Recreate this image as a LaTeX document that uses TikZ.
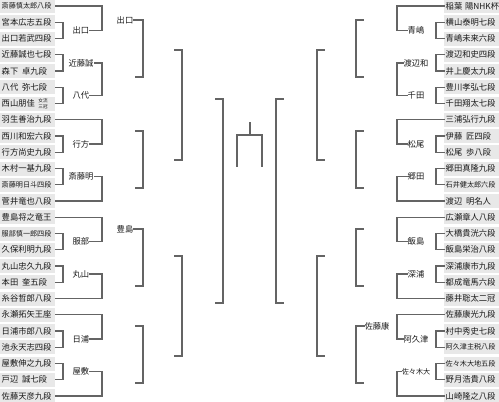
\documentclass[tikz,border=0pt]{standalone}
\usepackage{fontspec}
\newfontfamily\cjk{Noto Sans CJK JP}
\definecolor{boxgray}{RGB}{232,232,232}
\definecolor{linegray}{RGB}{100,100,100}
\definecolor{txt}{RGB}{25,25,25}
\newcommand\tightname[1]{{\fontsize{7.1}{8}\selectfont #1}}
\newcommand\namegap{\hspace{0.45em}}
\tikzset{
  pbox/.style={fill=boxgray, text=txt, anchor=west, minimum height=14pt, text width=52pt,
    inner xsep=1.5pt, inner ysep=0pt, align=left, font=\cjk\fontsize{8.3}{9}\selectfont},
  stack/.style={text=txt, inner sep=0pt, align=center, font=\cjk\fontsize{4.6}{6.4}\selectfont},
  lab/.style={text=txt, inner sep=0.5pt, font=\cjk\fontsize{8.3}{9}\selectfont},
  blank/.style={inner sep=0pt, minimum size=0pt},
  br/.style={draw=linegray, line width=1.3pt, line cap=rect}
}
\begin{document}
\begin{tikzpicture}[x=1pt,y=-1pt]
\useasboundingbox (0,0) rectangle (499,402);
\coordinate (XL1) at (63,0); \coordinate (XL2) at (102,0); \coordinate (XL3) at (143,0);
\coordinate (XL4) at (182,0); \coordinate (XL5) at (223,0); \coordinate (CL1) at (81,0);
\coordinate (XR1) at (436,0); \coordinate (XR2) at (397,0); \coordinate (XR3) at (356,0);
\coordinate (XR4) at (317,0); \coordinate (XR5) at (276,0); \coordinate (CR1) at (416,0);

% player boxes, left
\foreach \i/\nam in {1/\tightname{斎藤慎太郎八段}, 2/宮本広志五段, 3/出口若武四段, 4/近藤誠也七段,
  5/森下\namegap 卓九段, 6/八代\namegap 弥七段, 7/西山朋佳, 8/羽生善治九段,
  9/西川和宏六段, 10/行方尚史九段, 11/木村一基九段, 12/\tightname{斎藤明日斗四段},
  13/菅井竜也八段, 14/豊島将之竜王, 15/\tightname{服部慎一郎四段}, 16/久保利明九段,
  17/丸山忠久九段, 18/本田\namegap 奎五段, 19/糸谷哲郎八段, 20/永瀬拓矢王座,
  21/日浦市郎八段, 22/池永天志四段, 23/屋敷伸之九段, 24/戸辺\namegap 誠七段, 25/佐藤天彦九段}{
  \node[pbox] (L\i) at (0,{6+(\i-1)*16.25}) {\mbox{\nam}};
}
\node[stack] (L7title) at ([xshift=43pt]L7.west) {女流\\三冠};
% player boxes, right
\foreach \i/\nam in {1/稲葉 陽NHK杯, 2/横山泰明七段, 3/青嶋未来六段, 4/渡辺和史四段,
  5/井上慶太九段, 6/豊川孝弘七段, 7/千田翔太七段, 8/三浦弘行九段,
  9/伊藤\namegap 匠四段, 10/松尾\namegap 歩八段, 11/郷田真隆九段, 12/\tightname{石井健太郎六段},
  13/渡辺\namegap 明名人, 14/広瀬章人八段, 15/大橋貴洸六段, 16/飯島栄治八段,
  17/深浦康市九段, 18/都成竜馬六段, 19/藤井聡太二冠, 20/佐藤康光九段,
  21/村中秀史七段, 22/\tightname{阿久津主税八段}, 23/\tightname{佐々木大地五段}, 24/野月浩貴八段, 25/山崎隆之八段}{
  \node[pbox] (R\i) at (444,{6+(\i-1)*16.25}) {\mbox{\nam}};
}

% first round, left
\foreach \a/\b/\n/\nam in {2/3/a1/出口, 4/5/a2/近藤誠, 6/7/a3/八代, 9/10/a4/行方, 11/12/a5/斎藤明,
  15/16/a6/服部, 17/18/a7/丸山, 21/22/a8/日浦, 23/24/a9/屋敷}{
  \draw[br] (L\a.east) -- (L\a.east -| XL1) -- (L\b.east -| XL1) -- (L\b.east);
  \path (L\a.east -| XL1) -- coordinate (m\n) (L\b.east -| XL1);
  \node[lab] (\n) at (m\n -| CL1) {\nam};
  \draw[br] (\n.east) -- (\n.east -| XL2);
}
% first round, right
\foreach \a/\b/\n/\nam in {2/3/ra1/青嶋, 4/5/ra2/渡辺和, 6/7/ra3/千田, 9/10/ra4/松尾, 11/12/ra5/郷田,
  15/16/ra6/飯島, 17/18/ra7/深浦, 21/22/ra8/阿久津, 23/24/ra9/\tightname{佐々木大}}{
  \draw[br] (R\a.west) -- (R\a.west -| XR1) -- (R\b.west -| XR1) -- (R\b.west);
  \path (R\a.west -| XR1) -- coordinate (m\n) (R\b.west -| XR1);
  \node[lab] (\n) at (m\n -| CR1) {\nam};
  \draw[br] (\n.west) -- (\n.west -| XR2);
}

% second round, left
\foreach \i in {1,8,13,14,19,20,25} \draw[br] (L\i.east) -- (L\i.east -| XL2);
\draw[br] (L1.east -| XL2) -- (a1.east -| XL2);
\draw[br] (a2.east -| XL2) -- (a3.east -| XL2);
\draw[br] (L8.east -| XL2) -- (a4.east -| XL2);
\draw[br] (a5.east -| XL2) -- (L13.east -| XL2);
\draw[br] (L14.east -| XL2) -- (a6.east -| XL2);
\draw[br] (a7.east -| XL2) -- (L19.east -| XL2);
\draw[br] (L20.east -| XL2) -- (a8.east -| XL2);
\draw[br] (a9.east -| XL2) -- (L25.east -| XL2);
\node[lab] (b1) at (125,20) {出口};
\node[blank] (b2) at (135,77) {};
\node[blank] (b3) at (135,131) {};
\node[blank] (b4) at (135,188) {};
\node[lab] (b5) at (125,229) {豊島};
\node[blank] (b6) at (135,286) {};
\node[blank] (b7) at (135,326) {};
\node[blank] (b8) at (135,383) {};
\foreach \i in {1,...,8} \draw[br] (b\i.east) -- (b\i.east -| XL3);
% second round, right
\foreach \i in {1,8,13,14,19,20,25} \draw[br] (R\i.west) -- (R\i.west -| XR2);
\draw[br] (R1.west -| XR2) -- (ra1.west -| XR2);
\draw[br] (ra2.west -| XR2) -- (ra3.west -| XR2);
\draw[br] (R8.west -| XR2) -- (ra4.west -| XR2);
\draw[br] (ra5.west -| XR2) -- (R13.west -| XR2);
\draw[br] (R14.west -| XR2) -- (ra6.west -| XR2);
\draw[br] (ra7.west -| XR2) -- (R19.west -| XR2);
\draw[br] (R20.west -| XR2) -- (ra8.west -| XR2);
\draw[br] (ra9.west -| XR2) -- (R25.west -| XR2);
\node[blank] (rb1) at (364,20) {};
\node[blank] (rb2) at (364,77) {};
\node[blank] (rb3) at (364,131) {};
\node[blank] (rb4) at (364,188) {};
\node[blank] (rb5) at (364,229) {};
\node[blank] (rb6) at (364,286) {};
\node[lab] (rb7) at (377,326) {佐藤康};
\node[blank] (rb8) at (364,383) {};
\foreach \i in {1,...,8} \draw[br] (rb\i.west) -- (rb\i.west -| XR3);

% third round
\draw[br] (b1.east -| XL3) -- (b2.east -| XL3);
\draw[br] (b3.east -| XL3) -- (b4.east -| XL3);
\draw[br] (b5.east -| XL3) -- (b6.east -| XL3);
\draw[br] (b7.east -| XL3) -- (b8.east -| XL3);
\draw[br] (rb1.west -| XR3) -- (rb2.west -| XR3);
\draw[br] (rb3.west -| XR3) -- (rb4.west -| XR3);
\draw[br] (rb5.west -| XR3) -- (rb6.west -| XR3);
\draw[br] (rb7.west -| XR3) -- (rb8.west -| XR3);
\node[blank] (c1) at (174,50) {};
\node[blank] (c2) at (174,160) {};
\node[blank] (c3) at (174,256) {};
\node[blank] (c4) at (174,356) {};
\node[blank] (rc1) at (325,50) {};
\node[blank] (rc2) at (325,160) {};
\node[blank] (rc3) at (325,256) {};
\node[blank] (rc4) at (325,356) {};
\foreach \i in {1,...,4} {
  \draw[br] (c\i) -- (c\i -| XL4);
  \draw[br] (rc\i) -- (rc\i -| XR4);
}

% fourth round
\draw[br] (c1 -| XL4) -- (c2 -| XL4);
\draw[br] (c3 -| XL4) -- (c4 -| XL4);
\draw[br] (rc1 -| XR4) -- (rc2 -| XR4);
\draw[br] (rc3 -| XR4) -- (rc4 -| XR4);
\node[blank] (d1) at (215,99) {};
\node[blank] (d2) at (215,303) {};
\node[blank] (rd1) at (284,99) {};
\node[blank] (rd2) at (284,303) {};
\draw[br] (d1) -- (d1 -| XL5);
\draw[br] (d2) -- (d2 -| XL5);
\draw[br] (rd1) -- (rd1 -| XR5);
\draw[br] (rd2) -- (rd2 -| XR5);

% semifinals
\draw[br] (d1 -| XL5) -- (d2 -| XL5);
\draw[br] (rd1 -| XR5) -- (rd2 -| XR5);

% final
\coordinate (FT) at (250,123);
\coordinate (FC) at (250,135);
\coordinate (FL) at (237,166);
\coordinate (FR) at (262,166);
\draw[br] (FL) |- (FC) -| (FR);
\draw[br] (FC) -- (FT);
\end{tikzpicture}
\end{document}
